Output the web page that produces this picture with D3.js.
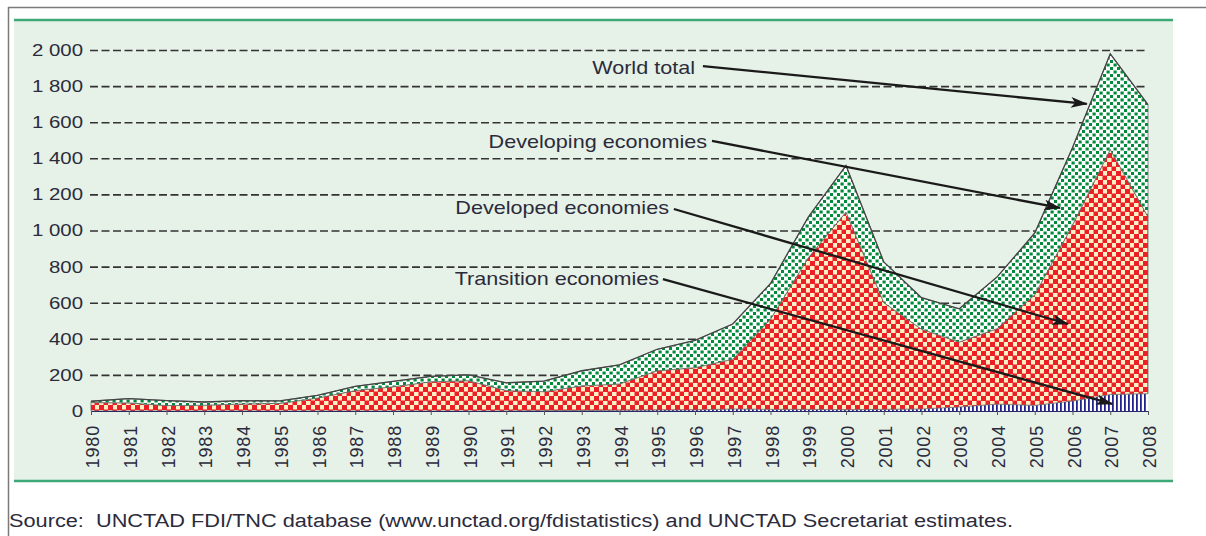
<!DOCTYPE html>
<html>
<head>
<meta charset="utf-8">
<script src="https://cdn.jsdelivr.net/npm/d3@7"></script>
<style>
    body { margin: 0; background: #fff; }
    svg { display: block; }
    text { font-family: "Liberation Sans", Arial, sans-serif; }
</style>
</head>
<body>
<svg id="chart" width="1206" height="536"></svg>
<script>
// years on the x axis
const years = [1980, 1981, 1982, 1983, 1984, 1985, 1986, 1987, 1988, 1989,
    1990, 1991, 1992, 1993, 1994, 1995, 1996, 1997, 1998, 1999,
    2000, 2001, 2002, 2003, 2004, 2005, 2006, 2007, 2008]

// FDI inflows, $ billion
const transition = [0, 0, 0, 0, 0, 0, 0, 0, 0, 0,
    0, 0, 2, 3, 4, 5, 6, 11, 9, 9,
    7, 9, 11, 22, 38, 31, 55, 91, 96]
const developed = [47, 45, 30, 32, 39, 42, 72, 113, 134, 162,
    168, 113, 105, 136, 146, 218, 234, 276, 500, 840,
    1095, 592, 442, 360, 418, 613, 975, 1358, 980]
const developing = [7, 24, 28, 18, 18, 14, 15, 24, 30, 30,
    32, 43, 59, 84, 106, 119, 151, 195, 197, 225,
    258, 225, 175, 184, 286, 342, 429, 530, 621]

const yTicks = [0, 200, 400, 600, 800, 1000, 1200, 1400, 1600, 1800, 2000]
const yTickLabels = ['0', '200', '400', '600', '800', '1 000', '1 200', '1 400', '1 600', '1 800', '2 000']

// label text, where the text ends and where its arrow points (in data units)
const labels = ['World total', 'Developing economies', 'Developed economies', 'Transition economies']
const labelAt = [[1996.0, 1867], [1996.32, 1457], [1995.31, 1091], [1995.05, 698]]
const arrowFrom = [[1996.21, 1911], [1996.45, 1496], [1995.44, 1119], [1995.15, 731]]
const arrowTo = [[2006.38, 1701], [2005.67, 1125], [2005.88, 482], [2007.05, 39]]

const sourceText = 'Source:  UNCTAD FDI/TNC database (www.unctad.org/fdistatistics) and UNCTAD Secretariat estimates.'

const svg = d3.select('#chart')
const textColor = '#2b2b3b'
const stretch = 'scale(1.2,1)'   // the original type is set a bit wide

// frame + panel
svg.append('line').attr('x1', 8).attr('x2', 1206).attr('y1', 7.5).attr('y2', 7.5)
    .style('stroke', '#7a7a7a').style('stroke-width', 1.5)
svg.append('line').attr('x1', 8.5).attr('x2', 8.5).attr('y1', 7).attr('y2', 536)
    .style('stroke', '#7a7a7a').style('stroke-width', 1.5)
svg.append('rect').attr('x', 14).attr('y', 19).attr('width', 1159).attr('height', 462)
    .style('fill', '#e6f1e7')
svg.append('line').attr('x1', 14).attr('x2', 1173).attr('y1', 20).attr('y2', 20)
    .style('stroke', '#3fa877').style('stroke-width', 2.5)
svg.append('line').attr('x1', 14).attr('x2', 1173).attr('y1', 481).attr('y2', 481)
    .style('stroke', '#3fa877').style('stroke-width', 2.5)

// fill patterns
const defs = svg.append('defs')

const chk = defs.append('pattern').attr('id', 'chk').attr('patternUnits', 'userSpaceOnUse')
    .attr('width', 9).attr('height', 9)
chk.append('rect').attr('width', 9).attr('height', 9).style('fill', '#fcefc4')
chk.append('rect').attr('x', 0).attr('y', 0).attr('width', 5).attr('height', 5).style('fill', '#ec1f26')
chk.append('rect').attr('x', 4.5).attr('y', 4.5).attr('width', 5).attr('height', 5).style('fill', '#ec1f26')

const dots = defs.append('pattern').attr('id', 'dots').attr('patternUnits', 'userSpaceOnUse')
    .attr('width', 7).attr('height', 7)
dots.append('rect').attr('width', 7).attr('height', 7).style('fill', '#ffffff')
dots.append('rect').attr('x', 0.5).attr('y', 0.5).attr('width', 3.2).attr('height', 3).style('fill', '#008a3a')
dots.append('rect').attr('x', 4).attr('y', 4).attr('width', 3).attr('height', 3.2).style('fill', '#008a3a')

const stripes = defs.append('pattern').attr('id', 'stripes').attr('patternUnits', 'userSpaceOnUse')
    .attr('width', 4).attr('height', 4)
stripes.append('rect').attr('width', 4).attr('height', 4).style('fill', '#ffffff')
stripes.append('rect').attr('width', 1.8).attr('height', 4).style('fill', '#23238c')

// scales
const x = d3.scaleLinear().domain([1980, 2008]).range([91, 1148])
const y = d3.scaleLinear().domain([0, 2000]).range([411, 50])

// dashed gridlines
svg.append('g')
    .attr('transform', 'translate(90,0)')
    .call(d3.axisRight(y).tickValues(yTicks.slice(1)).tickSize(1058).tickFormat(''))
    .call(g => g.select('.domain').remove())
    .selectAll('line')
    .style('stroke', '#333')
    .style('stroke-width', 1.6)
    .style('stroke-dasharray', '8,3.5')

// stacked areas
const rows = years.map((yr, i) => ({
    year: yr,
    transition: transition[i],
    developed: developed[i],
    developing: developing[i]
}))
const keys = ['transition', 'developed', 'developing']
const fills = { transition: 'url(#stripes)', developed: 'url(#chk)', developing: 'url(#dots)' }
const series = d3.stack().keys(keys)(rows)

const area = d3.area()
    .x(d => x(d.data.year))
    .y0(d => y(d[0]))
    .y1(d => y(d[1]))

svg.append('g').selectAll('path.area')
    .data(series)
    .enter().append('path')
    .attr('class', 'area')
    .attr('d', area)
    .style('fill', d => fills[d.key])
    .style('stroke', d => d.key == 'transition' ? 'none' : '#6a6a6a')
    .style('stroke-width', 0.8)

// world total outline
svg.append('path')
    .attr('d', d3.line().x(d => x(d.data.year)).y(d => y(d[1]))(series[2]))
    .style('fill', 'none')
    .style('stroke', '#444')
    .style('stroke-width', 1.3)

// x axis
const xAxis = svg.append('g')
    .attr('transform', `translate(0,${y(0)})`)
    .call(d3.axisBottom(x).tickValues(years).tickFormat(d3.format('d')).tickSize(4).tickSizeOuter(0).tickPadding(10))
xAxis.select('.domain').style('stroke', '#2a2a6a').style('stroke-width', 1.2)
xAxis.selectAll('line').style('stroke', '#555')
xAxis.selectAll('text')
    .attr('transform', 'rotate(-90)')
    .attr('x', -14)
    .attr('y', 0)
    .attr('dy', '0.42em')
    .style('text-anchor', 'end')
    .style('font-size', '18px')
    .style('letter-spacing', '0.8px')
    .style('fill', textColor)

// y labels
const yAxis = svg.append('g')
    .attr('transform', 'translate(89,0)')
    .call(d3.axisLeft(y).tickValues(yTicks).tickSize(0).tickPadding(5).tickFormat((d, i) => yTickLabels[i]))
yAxis.select('.domain').remove()
yAxis.selectAll('text')
    .attr('transform', stretch)
    .style('font-size', '17px')
    .style('fill', textColor)

// arrow marker
defs.append('marker')
    .attr('id', 'arrow')
    .attr('viewBox', '0 0 16 10')
    .attr('refX', 15)
    .attr('refY', 5)
    .attr('markerUnits', 'userSpaceOnUse')
    .attr('markerWidth', 17)
    .attr('markerHeight', 11)
    .attr('orient', 'auto')
    .append('path')
    .attr('d', 'M 0 0 L 16 5 L 0 10 L 4 5 Z')
    .style('fill', '#1a1a1a')

// labels and arrows
labels.forEach((t, i) => {
    svg.append('line')
        .attr('x1', x(arrowFrom[i][0])).attr('y1', y(arrowFrom[i][1]))
        .attr('x2', x(arrowTo[i][0])).attr('y2', y(arrowTo[i][1]))
        .attr('marker-end', 'url(#arrow)')
        .style('stroke', '#1a1a1a')
        .style('stroke-width', 2.3)

    svg.append('text')
        .attr('transform', `translate(${x(labelAt[i][0])},${y(labelAt[i][1])}) ${stretch}`)
        .style('text-anchor', 'end')
        .style('font-size', '18px')
        .style('fill', textColor)
        .text(t)
})

// source note
svg.append('text')
    .attr('x', 9)
    .attr('y', 527)
    .attr('textLength', 1004)
    .attr('lengthAdjust', 'spacingAndGlyphs')
    .style('font-size', '18px')
    .style('fill', textColor)
    .style('white-space', 'pre')
    .text(sourceText)
</script>
</body>
</html>
